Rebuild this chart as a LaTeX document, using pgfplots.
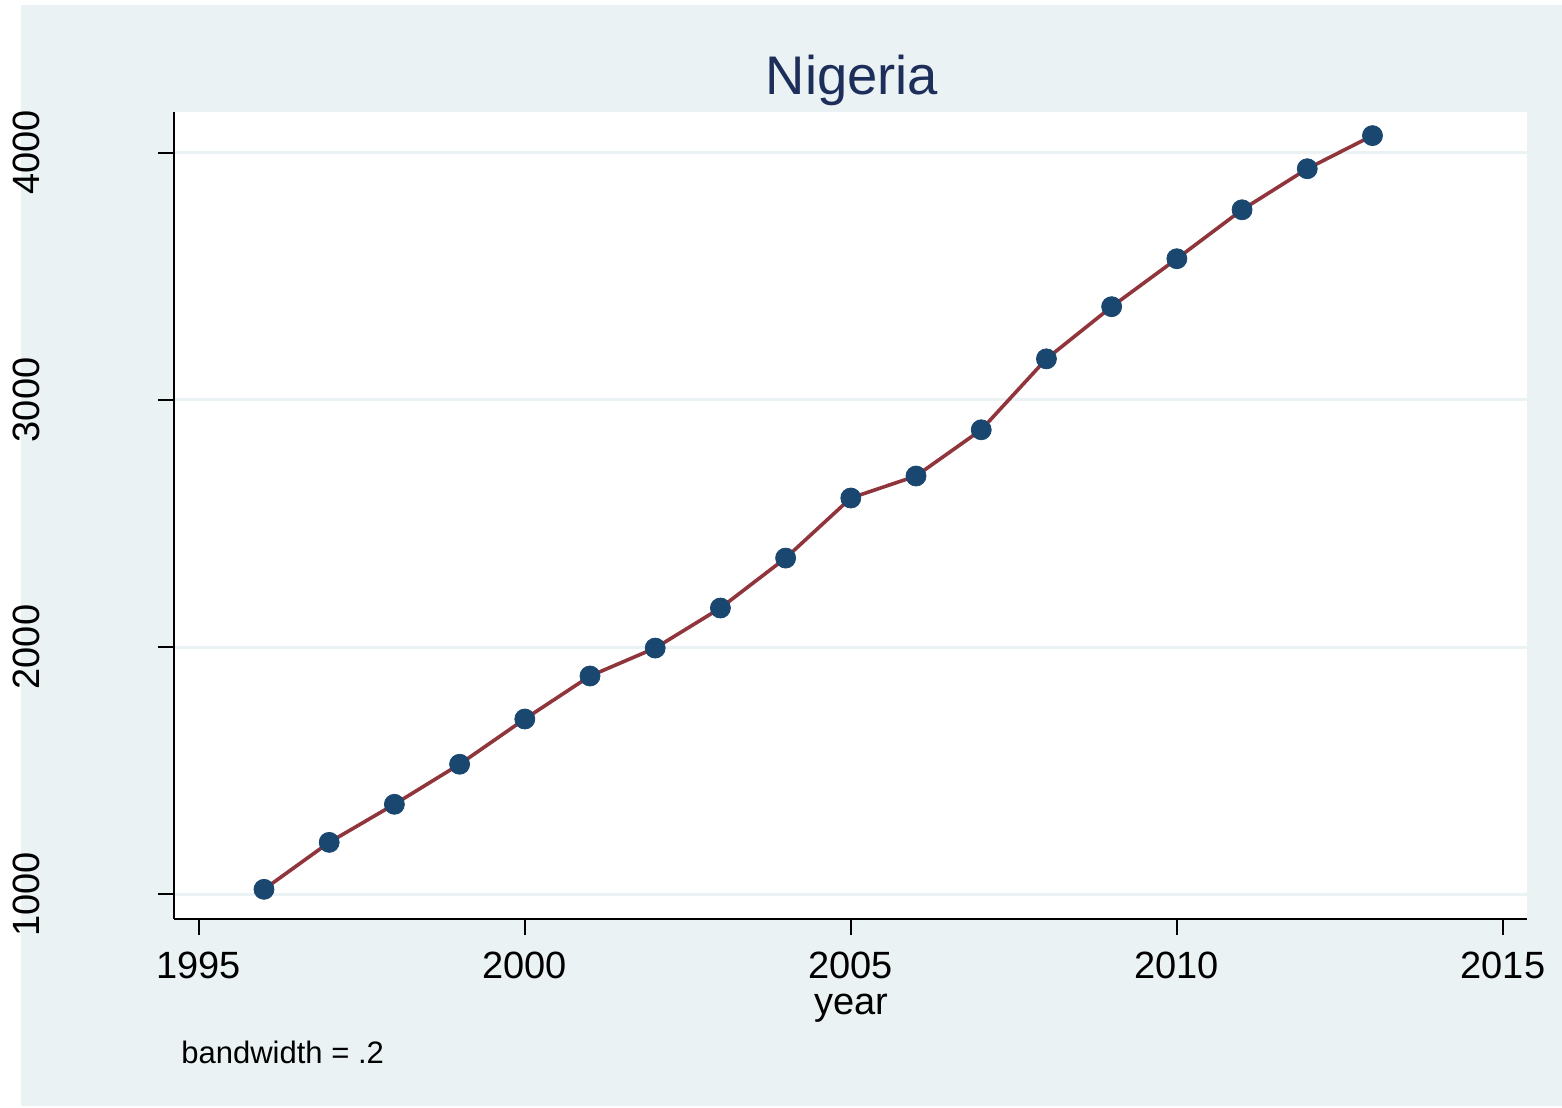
\documentclass[border=0pt]{standalone}
\usepackage{pgfplots}
\pgfplotsset{compat=1.18}
\usepackage{fontspec}
\setmainfont{Liberation Sans}
\definecolor{bgc}{RGB}{234,242,243}
\definecolor{snavy}{RGB}{26,71,111}
\definecolor{smaroon}{RGB}{144,53,59}
\definecolor{dknavy}{RGB}{28,46,89}
\begin{document}
\begin{tikzpicture}
\useasboundingbox (0,0) rectangle (781bp,554bp);
\fill[bgc] (10.5bp,1bp) rectangle (781bp,551.5bp);
\begin{axis}[at={(87bp,94.5bp)}, anchor=south west, scale only axis, width=676.5bp, height=403.5bp,
 xmin=1994.62, xmax=2015.37, ymin=900, ymax=4164.6,
 axis x line*=bottom, axis y line*=left, axis line style={black, line width=1bp, -},
 axis background/.style={fill=white},
 xtick={1995,2000,...,2015}, ytick={1000,2000,3000,4000},
 tick align=outside, major tick length=8bp, tick style={black, line width=1bp},
 ymajorgrids, grid style={bgc, line width=1.5bp},
 /pgf/number format/assume math mode=true,
 /pgf/number format/1000 sep={},
 ticklabel style={font=\fontsize{19bp}{20bp}\selectfont, inner sep=0pt},
 xticklabel style={anchor=north},
 yticklabel style={rotate=90, anchor=south},
 xticklabel shift=8.5bp, yticklabel shift=59bp,
 clip=false,
]
\addplot[only marks, mark=*, mark size=5bp, mark options={fill=snavy, draw=snavy}] coordinates {
(1996,1020) (1997,1210) (1998,1364) (1999,1526) (2000,1709) (2001,1883) (2002,1996) (2003,2158) (2004,2360) (2005,2603) (2006,2692) (2007,2879) (2008,3166) (2009,3377) (2010,3571) (2011,3769) (2012,3935) (2013,4069)
};
\addplot[smaroon, line width=1.8bp, no marks] coordinates {
(1996,1020) (1997,1210) (1998,1364) (1999,1526) (2000,1709) (2001,1883) (2002,1996) (2003,2158) (2004,2360) (2005,2603) (2006,2692) (2007,2879) (2008,3166) (2009,3377) (2010,3571) (2011,3769) (2012,3935) (2013,4069)
};
\end{axis}
\node[anchor=base, text=dknavy, font=\fontsize{27.2bp}{28bp}\selectfont] at (426bp,506.5bp) {Nigeria};
\node[anchor=base, font=\fontsize{19bp}{20bp}\selectfont] at (425.5bp,46.5bp) {year};
\node[anchor=base west, inner sep=0pt, font=\fontsize{15.5bp}{17bp}\selectfont] at (90.5bp,22.5bp) {bandwidth = .2};
\end{tikzpicture}
\end{document}
